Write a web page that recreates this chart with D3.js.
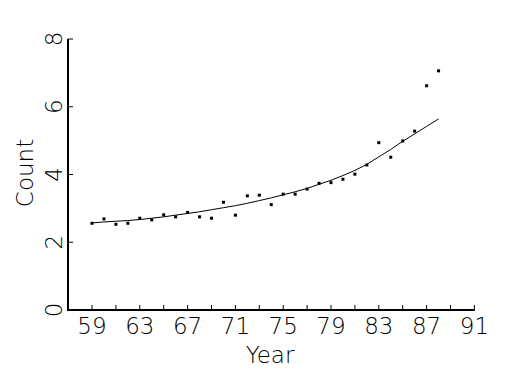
<!DOCTYPE html>
<html>
<head>
<meta charset="utf-8">
<script src="https://cdn.jsdelivr.net/npm/d3@7"></script>
<style>
  body { margin: 0; background: #fff; }
  text { font-family: "DejaVu Sans", sans-serif; font-weight: 200; fill: #000; }
</style>
</head>
<body>
<div class="canvas"></div>
<script>
// data
const years = [59, 60, 61, 62, 63, 64, 65, 66, 67, 68, 69, 70, 71, 72, 73,
               74, 75, 76, 77, 78, 79, 80, 81, 82, 83, 84, 85, 86, 87, 88];
const counts = [2.56, 2.69, 2.53, 2.56, 2.71, 2.66, 2.81, 2.75, 2.88, 2.75, 2.71, 3.18, 2.80, 3.37, 3.39,
                3.11, 3.42, 3.42, 3.57, 3.74, 3.76, 3.86, 4.01, 4.28, 4.94, 4.51, 4.99, 5.28, 6.62, 7.06];
const fitted = [2.57, 2.60, 2.62, 2.64, 2.67, 2.71, 2.75, 2.80, 2.85, 2.90, 2.96, 3.02, 3.08, 3.15, 3.23,
                3.31, 3.40, 3.49, 3.59, 3.71, 3.83, 3.97, 4.12, 4.30, 4.52, 4.74, 4.98, 5.20, 5.42, 5.64];
const xTicks = [59, 61, 63, 65, 67, 69, 71, 73, 75, 77, 79, 81, 83, 85, 87, 89, 91];
const xLabels = [59, 63, 67, 71, 75, 79, 83, 87, 91];
const yTicks = [0, 2, 4, 6, 8];

const width = 525, height = 375;

const svg = d3.select('.canvas')
    .append('svg')
    .attr('width', width)
    .attr('height', height);

const x = d3.scaleLinear().domain([59, 91]).range([92, 474.4]);
const y = d3.scaleLinear().domain([0, 8]).range([310, 39]);

// axes lines
svg.append('line')
    .attr('x1', 68).attr('x2', 68)
    .attr('y1', y(8)).attr('y2', y(0) + 1)
    .attr('stroke', '#000').attr('stroke-width', 2);

svg.append('line')
    .attr('x1', 67).attr('x2', x(91) + 0.5)
    .attr('y1', y(0)).attr('y2', y(0))
    .attr('stroke', '#000').attr('stroke-width', 2);

// x ticks point up
svg.selectAll('.xtick')
    .data(xTicks)
    .enter()
    .append('line')
    .attr('x1', d => x(d)).attr('x2', d => x(d))
    .attr('y1', y(0)).attr('y2', y(0) - 5)
    .attr('stroke', '#000').attr('stroke-width', 1);

svg.selectAll('.xlabel')
    .data(xLabels)
    .enter()
    .append('text')
    .attr('x', d => x(d))
    .attr('y', 334)
    .attr('text-anchor', 'middle')
    .attr('font-size', 23)
    .text(d => d);

// y ticks point right
svg.selectAll('.ytick')
    .data(yTicks)
    .enter()
    .append('line')
    .attr('x1', 68).attr('x2', 73)
    .attr('y1', d => y(d)).attr('y2', d => y(d))
    .attr('stroke', '#000').attr('stroke-width', 1);

svg.selectAll('.ylabel')
    .data(yTicks)
    .enter()
    .append('text')
    .attr('transform', d => `translate(62, ${y(d)}) rotate(-90)`)
    .attr('text-anchor', 'middle')
    .attr('font-size', 23)
    .text(d => d);

// axis titles
svg.append('text')
    .attr('x', 270).attr('y', 363)
    .attr('text-anchor', 'middle')
    .attr('font-size', 23)
    .text('Year');

svg.append('text')
    .attr('transform', 'translate(33, 173) rotate(-90)')
    .attr('text-anchor', 'middle')
    .attr('font-size', 23)
    .text('Count');

// fitted curve
const line = d3.line()
    .x((d, i) => x(years[i]))
    .y(d => y(d));

svg.append('path')
    .datum(fitted)
    .attr('d', line)
    .attr('fill', 'none')
    .attr('stroke', '#000')
    .attr('stroke-width', 1);

// points
svg.selectAll('.pt')
    .data(counts)
    .enter()
    .append('rect')
    .attr('x', (d, i) => x(years[i]) - 1.5)
    .attr('y', d => y(d) - 1.5)
    .attr('width', 3)
    .attr('height', 3)
    .attr('fill', '#000');
</script>
</body>
</html>
